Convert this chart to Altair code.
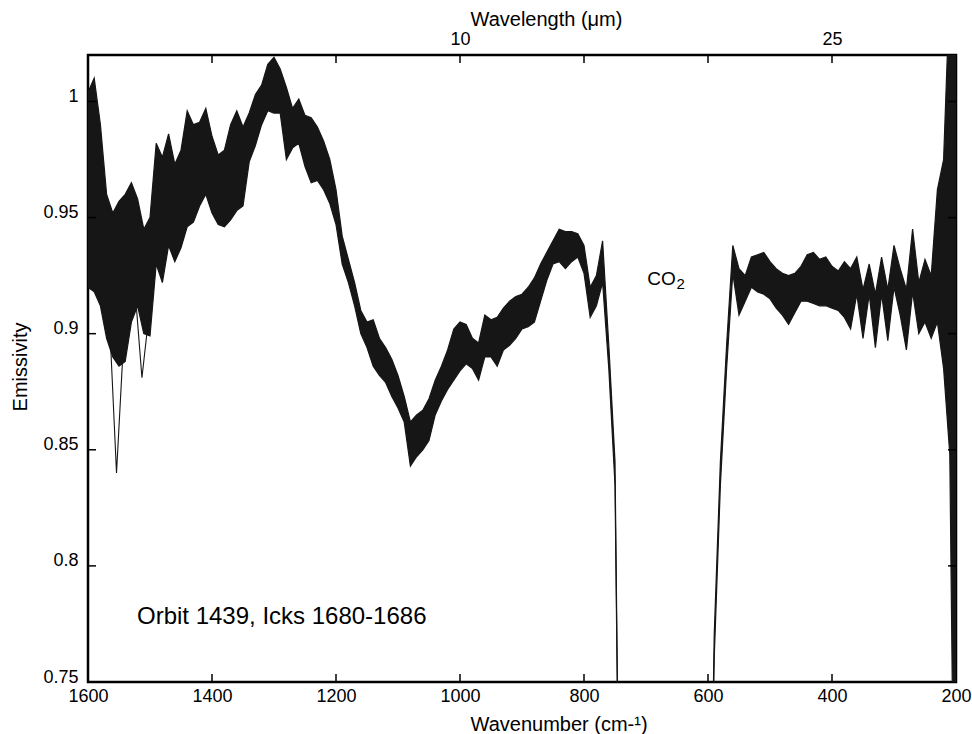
import altair as alt
import pandas as pd

# ---------------- data ----------------
wn_a = list(range(1600, 739, -10))   # 1600 ... 740
wn_b = list(range(600, 199, -10))    # 600 ... 200 (CO2 band gap between)
wavenumber = wn_a + wn_b

upper = [
    1.004, 1.010, 0.990, 0.960, 0.952, 0.957, 0.960, 0.965, 0.958, 0.945,   # 1600-1510
    0.950, 0.982, 0.976, 0.986, 0.973, 0.979, 0.996, 0.990, 0.991, 0.997,   # 1500-1410
    0.985, 0.977, 0.979, 0.990, 0.996, 0.989, 0.995, 1.003, 1.007, 1.016,   # 1400-1310
    1.019, 1.014, 1.006, 0.997, 1.001, 0.994, 0.993, 0.989, 0.983, 0.975,   # 1300-1210
    0.962, 0.942, 0.932, 0.922, 0.910, 0.905, 0.906, 0.898, 0.894, 0.889,   # 1200-1110
    0.882, 0.873, 0.862, 0.865, 0.867, 0.872, 0.880, 0.886, 0.893, 0.902,   # 1100-1010
    0.905, 0.904, 0.898, 0.896, 0.908, 0.906, 0.907, 0.911, 0.914, 0.916,   # 1000-910
    0.917, 0.920, 0.924, 0.930, 0.935, 0.940, 0.945, 0.944, 0.944, 0.943,   # 900-810
    0.938, 0.920, 0.925, 0.940, 0.895, 0.845, 0.600,                        # 800-740
    0.600, 0.770, 0.845, 0.895, 0.938, 0.928, 0.925, 0.933, 0.934, 0.935,   # 600-510
    0.931, 0.928, 0.926, 0.925, 0.926, 0.929, 0.934, 0.935, 0.932, 0.933,   # 500-410
    0.929, 0.927, 0.931, 0.928, 0.933, 0.919, 0.930, 0.917, 0.933, 0.919,   # 400-310
    0.938, 0.928, 0.919, 0.945, 0.922, 0.932, 0.925, 0.962, 0.975, 1.050,   # 300-210
    1.050,                                                                  # 200
]

lower = [
    0.920, 0.918, 0.912, 0.898, 0.890, 0.886, 0.888, 0.905, 0.912, 0.900,   # 1600-1510
    0.899, 0.930, 0.922, 0.938, 0.931, 0.937, 0.946, 0.948, 0.955, 0.960,   # 1500-1410
    0.952, 0.947, 0.946, 0.949, 0.953, 0.955, 0.974, 0.981, 0.990, 0.996,   # 1400-1310
    0.995, 0.995, 0.975, 0.980, 0.982, 0.972, 0.965, 0.966, 0.962, 0.956,   # 1300-1210
    0.947, 0.930, 0.922, 0.912, 0.900, 0.894, 0.886, 0.882, 0.879, 0.873,   # 1200-1110
    0.868, 0.862, 0.843, 0.847, 0.850, 0.854, 0.865, 0.871, 0.876, 0.880,   # 1100-1010
    0.884, 0.887, 0.885, 0.880, 0.890, 0.890, 0.886, 0.893, 0.895, 0.898,   # 1000-910
    0.902, 0.903, 0.905, 0.914, 0.923, 0.930, 0.931, 0.928, 0.931, 0.933,   # 900-810
    0.926, 0.907, 0.912, 0.922, 0.885, 0.835, 0.600,                        # 800-740
    0.600, 0.760, 0.835, 0.885, 0.926, 0.908, 0.914, 0.920, 0.918, 0.917,   # 600-510
    0.915, 0.911, 0.908, 0.904, 0.909, 0.914, 0.914, 0.913, 0.912, 0.912,   # 500-410
    0.911, 0.910, 0.907, 0.902, 0.917, 0.898, 0.917, 0.894, 0.917, 0.897,   # 400-310
    0.920, 0.908, 0.893, 0.918, 0.900, 0.905, 0.898, 0.905, 0.885, 0.848,   # 300-210
    0.600,                                                                  # 200
]

outlier_wn = [1564, 1554, 1544, 1523, 1513, 1503]
outlier_val = [0.898, 0.840, 0.890, 0.915, 0.881, 0.905]
outlier_id = ["a", "a", "a", "b", "b", "b"]

x_label_values = [1600, 1400, 1200, 1000, 800, 600, 400, 200]
x_tick_values = [1400, 1200, 1000, 800, 600, 400]
y_label_values = [0.75, 0.8, 0.85, 0.9, 0.95, 1.0]
y_tick_values = [0.8, 0.85, 0.9, 0.95, 1.0]
top_label_values = [1000, 400]          # 10 um and 25 um

notes = ["Orbit 1439, Icks 1680-1686", "CO", "2"]
note_wn = [1521, 698, 651]
note_val = [0.775, 0.921, 0.9193]
note_size = [24, 19, 15]

# ---------------- chart ----------------
W, H = 868, 627
FONT = "Liberation Sans"
xscale = alt.Scale(domain=[1600, 200], nice=False, zero=False)
yscale = alt.Scale(domain=[0.75, 1.02], nice=False, zero=False)

band = pd.DataFrame({"wn": wavenumber, "upper": upper, "lower": lower})
out = pd.DataFrame({"wn": outlier_wn, "val": outlier_val, "id": outlier_id})
xt = pd.DataFrame({"v": x_tick_values})
yt = pd.DataFrame({"v": y_tick_values})
nt = pd.DataFrame({"t": notes, "wn": note_wn, "val": note_val, "s": note_size})

INK = "#161616"

area = alt.Chart(band).mark_area(color=INK, clip=True).encode(
    x=alt.X("wn:Q", scale=xscale,
            axis=alt.Axis(values=x_label_values, format="d", title="Wavenumber (cm-¹)",
                          labelPadding=5, labelFlush=False,
                          titleX=382, titleY=48,
                          titleBaseline="alphabetic", titleAlign="left",
                          titleAnchor="start")),
    y=alt.Y("lower:Q", scale=yscale,
            axis=alt.Axis(values=y_label_values, format="~g", title="Emissivity",
                          labelAlign="right", labelBaseline="alphabetic", labelPadding=10,
                          labelFlush=False,
                          titleX=-68, titleY=H / 2 - 2, titleAngle=270,
                          titleAlign="center", titleBaseline="middle")),
    y2="upper:Q",
)

line_up = alt.Chart(band).mark_line(color=INK, strokeWidth=1.2, clip=True).encode(
    x=alt.X("wn:Q", scale=xscale, axis=None),
    y=alt.Y("upper:Q", scale=yscale, axis=None),
)
line_lo = alt.Chart(band).mark_line(color=INK, strokeWidth=1.2, clip=True).encode(
    x=alt.X("wn:Q", scale=xscale, axis=None),
    y=alt.Y("lower:Q", scale=yscale, axis=None),
)
outliers = alt.Chart(out).mark_line(color=INK, strokeWidth=1.1, clip=True).encode(
    x=alt.X("wn:Q", scale=xscale, axis=None),
    y=alt.Y("val:Q", scale=yscale, axis=None),
    detail="id:N",
)

tick_style = dict(color="black", strokeWidth=1.5)
bottom_ticks = alt.Chart(xt).mark_rule(**tick_style).encode(
    x=alt.X("v:Q", scale=xscale, axis=None),
    y=alt.value(H), y2=alt.value(H - 8),
)
top_ticks = alt.Chart(xt).mark_rule(**tick_style).encode(
    x=alt.X("v:Q", scale=xscale,
            axis=alt.Axis(orient="top", values=top_label_values,
                          labelExpr="datum.value == 1000 ? '10' : '25'",
                          title="Wavelength (μm)", labelPadding=7, labelFlush=False,
                          titleX=382, titleY=-30, titleBaseline="alphabetic",
                          titleAlign="left", titleAnchor="start")),
    y=alt.value(0), y2=alt.value(8),
)
left_ticks = alt.Chart(yt).mark_rule(**tick_style).encode(
    y=alt.Y("v:Q", scale=yscale, axis=None),
    x=alt.value(0), x2=alt.value(8),
)
right_ticks = alt.Chart(yt).mark_rule(**tick_style).encode(
    y=alt.Y("v:Q", scale=yscale, axis=None),
    x=alt.value(W), x2=alt.value(W - 8),
)

texts = alt.Chart(nt).mark_text(align="left", baseline="alphabetic", font=FONT,
                                color="black").encode(
    x=alt.X("wn:Q", scale=xscale, axis=None),
    y=alt.Y("val:Q", scale=yscale, axis=None),
    text="t:N",
    size=alt.Size("s:Q", scale=None, legend=None),
)

chart = alt.layer(
    area, line_up, line_lo, outliers, bottom_ticks, top_ticks, left_ticks, right_ticks, texts
).resolve_axis(x="independent", y="independent").properties(
    width=W, height=H,
    autosize=alt.AutoSizeParams(type="none"),
    padding={"left": 88, "top": 55, "right": 16, "bottom": 52},
    background="white",
).configure_view(
    stroke="black", strokeWidth=2.5
).configure_axis(
    labelFont=FONT, labelFontSize=18, labelColor="black",
    titleFont=FONT, titleFontSize=20, titleFontWeight="normal", titleColor="black",
    ticks=False, domain=False, grid=False,
)

chart.save("out.html", embed_options={"renderer": "svg", "actions": False})
